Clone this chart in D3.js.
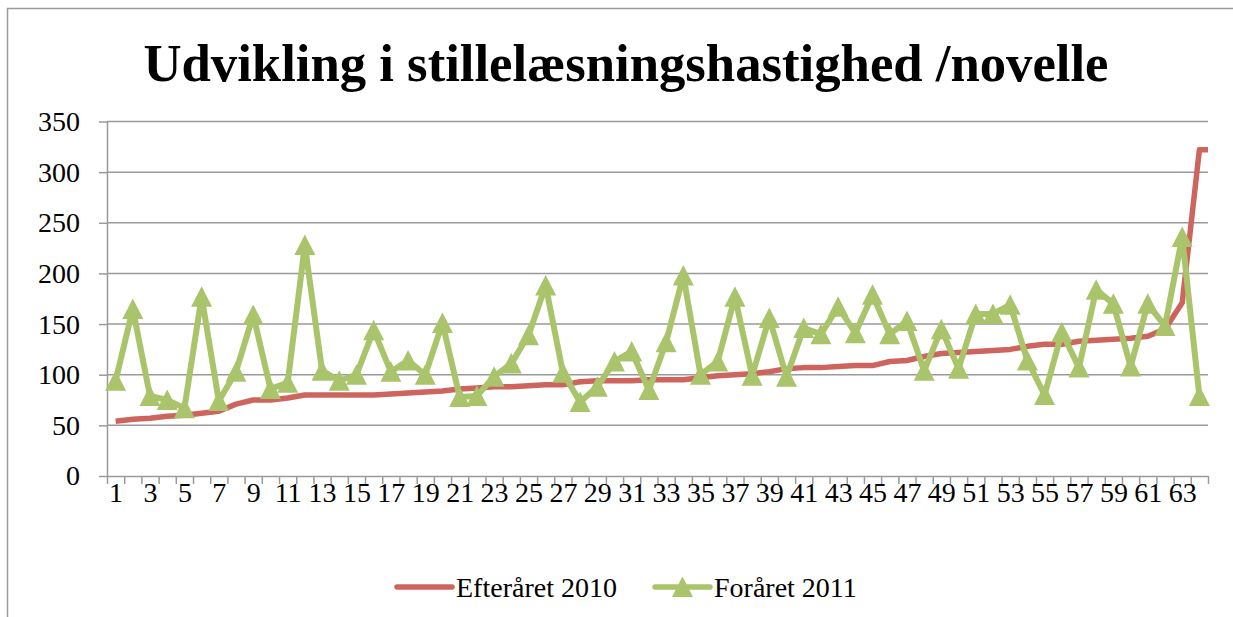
<!DOCTYPE html>
<html>
<head>
<meta charset=utf-8>
<style>
body {margin: 0; background: #fff;}
svg text {font-family: 'Liberation Serif', 'Times New Roman', serif; fill: #000;}
.grid line {stroke: #9a9a9a; stroke-width: 1.5;}
.axis path, .axis line {stroke: #9a9a9a; stroke-width: 1.5;}
</style>
</head>
<body>
<svg id=chart width=1233 height=617></svg>

<script src='https://cdnjs.cloudflare.com/ajax/libs/d3/7.8.5/d3.min.js'></script>
<script>
//data
var categories = d3.range(1, 65);
var xTickLabels = categories.filter(function(d) { return d % 2 === 1; });
var yTicks = [0, 50, 100, 150, 200, 250, 300, 350];

//last value sits just past the axis end and gets clipped (as in the original)
var efteraaret2010 = [54, 56, 57, 59, 60, 62, 64, 71, 75, 75,
                      77, 80, 80, 80, 80, 80, 81, 82, 83, 84,
                      86, 87, 88, 88, 89, 90, 90, 93, 94, 94,
                      94, 95, 95, 95, 97, 99, 100, 101, 103, 106,
                      107, 107, 108, 109, 109, 113, 114, 118, 121, 122,
                      123, 124, 125, 128, 130, 130, 133, 134, 135, 136,
                      138, 145, 171, 322, 322];
var foraaret2011 = [94, 165, 79, 75, 67, 177, 74, 103, 159, 86,
                    92, 228, 104, 94, 100, 144, 103, 114, 100, 151,
                    78, 79, 98, 111, 139, 188, 102, 73, 88, 113,
                    123, 85, 132, 198, 100, 113, 177, 99, 156, 98,
                    146, 140, 167, 141, 179, 140, 153, 104, 145, 106,
                    160, 160, 169, 114, 80, 142, 107, 184, 170, 108,
                    170, 148, 236, 79];

var seriesNames = ['Efteråret 2010', 'Foråret 2011'];
var seriesColors = ['#cd655e', '#a9c46a'];

var chartTitle = 'Udvikling i stillelæsningshastighed /novelle';

var svg = d3.select('#chart');
var margin = {top: 121.5, left: 107, right: 25, bottom: 141};
var width = 1233 - margin.left - margin.right;
var height = 617 - margin.top - margin.bottom;

//outer chart frame
svg.append('rect')
    .attr('x', 7.5).attr('y', 8.5)
    .attr('width', 1240).attr('height', 640)
    .attr('fill', 'none')
    .attr('stroke', '#9a9a9a')
    .attr('stroke-width', 1.5);

//title
svg.append('text')
    .attr('x', 626)
    .attr('y', 81)
    .attr('text-anchor', 'middle')
    .attr('font-size', 52)
    .attr('font-weight', 'bold')
    .attr('textLength', 965)
    .attr('lengthAdjust', 'spacingAndGlyphs')
    .text(chartTitle);

var g = svg.append('g')
    .attr('transform', 'translate(' + margin.left + ',' + margin.top + ')');

var x = d3.scaleLinear().domain([0.5, categories.length + 0.5]).range([0, width]);
var y = d3.scaleLinear().domain([0, 350]).range([height, 0]);

//gridlines
g.append('g')
    .attr('class', 'grid')
  .selectAll('line')
  .data(yTicks.slice(1))
  .enter().append('line')
    .attr('x1', 0).attr('x2', width)
    .attr('y1', function(d) { return y(d); })
    .attr('y2', function(d) { return y(d); });

//y axis
var yAxis = g.append('g')
    .attr('class', 'axis')
    .call(d3.axisLeft(y).tickValues(yTicks).tickSize(8).tickSizeOuter(0).tickPadding(19));
yAxis.attr('font-family', null);
yAxis.selectAll('text').attr('font-size', 28);

//x axis: tick marks between categories
var boundaries = [0].concat(categories).map(function(d) { return d + 0.5; });
g.append('g')
    .attr('class', 'axis')
    .attr('transform', 'translate(0,' + height + ')')
    .call(d3.axisBottom(x).tickValues(boundaries).tickSize(8).tickSizeOuter(0).tickFormat(''));

//x axis labels
var xLab = g.append('g')
    .attr('transform', 'translate(0,' + height + ')')
    .call(d3.axisBottom(x).tickValues(xTickLabels).tickSize(0).tickPadding(6));
xLab.select('.domain').remove();
xLab.attr('font-family', null);
xLab.selectAll('text').attr('font-size', 28);

//lines
g.append('clipPath').attr('id', 'plotclip')
  .append('rect').attr('x', 0).attr('y', -10).attr('width', width).attr('height', height + 20);

var line = d3.line()
    .x(function(d, i) { return x(i + 1); })
    .y(function(d) { return y(d); });

var plot = g.append('g').attr('clip-path', 'url(#plotclip)');

plot.append('path')
    .datum(efteraaret2010)
    .attr('fill', 'none')
    .attr('stroke', seriesColors[0])
    .attr('stroke-width', 5.5)
    .attr('stroke-linejoin', 'round')
    .attr('d', line);

plot.append('path')
    .datum(foraaret2011)
    .attr('fill', 'none')
    .attr('stroke', seriesColors[1])
    .attr('stroke-width', 6)
    .attr('stroke-linejoin', 'round')
    .attr('d', line);

var triangle = 'M0,-10.5L10.5,10L-10.5,10Z';

g.selectAll('.marker')
  .data(foraaret2011)
  .enter().append('path')
    .attr('class', 'marker')
    .attr('d', triangle)
    .attr('fill', seriesColors[1])
    .attr('transform', function(d, i) { return 'translate(' + x(i + 1) + ',' + y(d) + ')'; });

//legend
var legendX = [397, 655];
var legend = svg.selectAll('.legend')
  .data(seriesNames)
  .enter().append('g')
    .attr('class', 'legend')
    .attr('transform', function(d, i) { return 'translate(' + legendX[i] + ',587)'; });

legend.append('line')
    .attr('x1', 0).attr('x2', 55)
    .attr('stroke', function(d, i) { return seriesColors[i]; })
    .attr('stroke-width', 5.5)
    .attr('stroke-linecap', 'round');

legend.filter(function(d, i) { return i === 1; })
  .append('path')
    .attr('d', triangle)
    .attr('transform', 'translate(27.5,0)')
    .attr('fill', seriesColors[1]);

legend.append('text')
    .attr('x', 59)
    .attr('dy', '0.35em')
    .attr('font-size', 28)
    .text(function(d) { return d; });
</script>
</body>
</html>
